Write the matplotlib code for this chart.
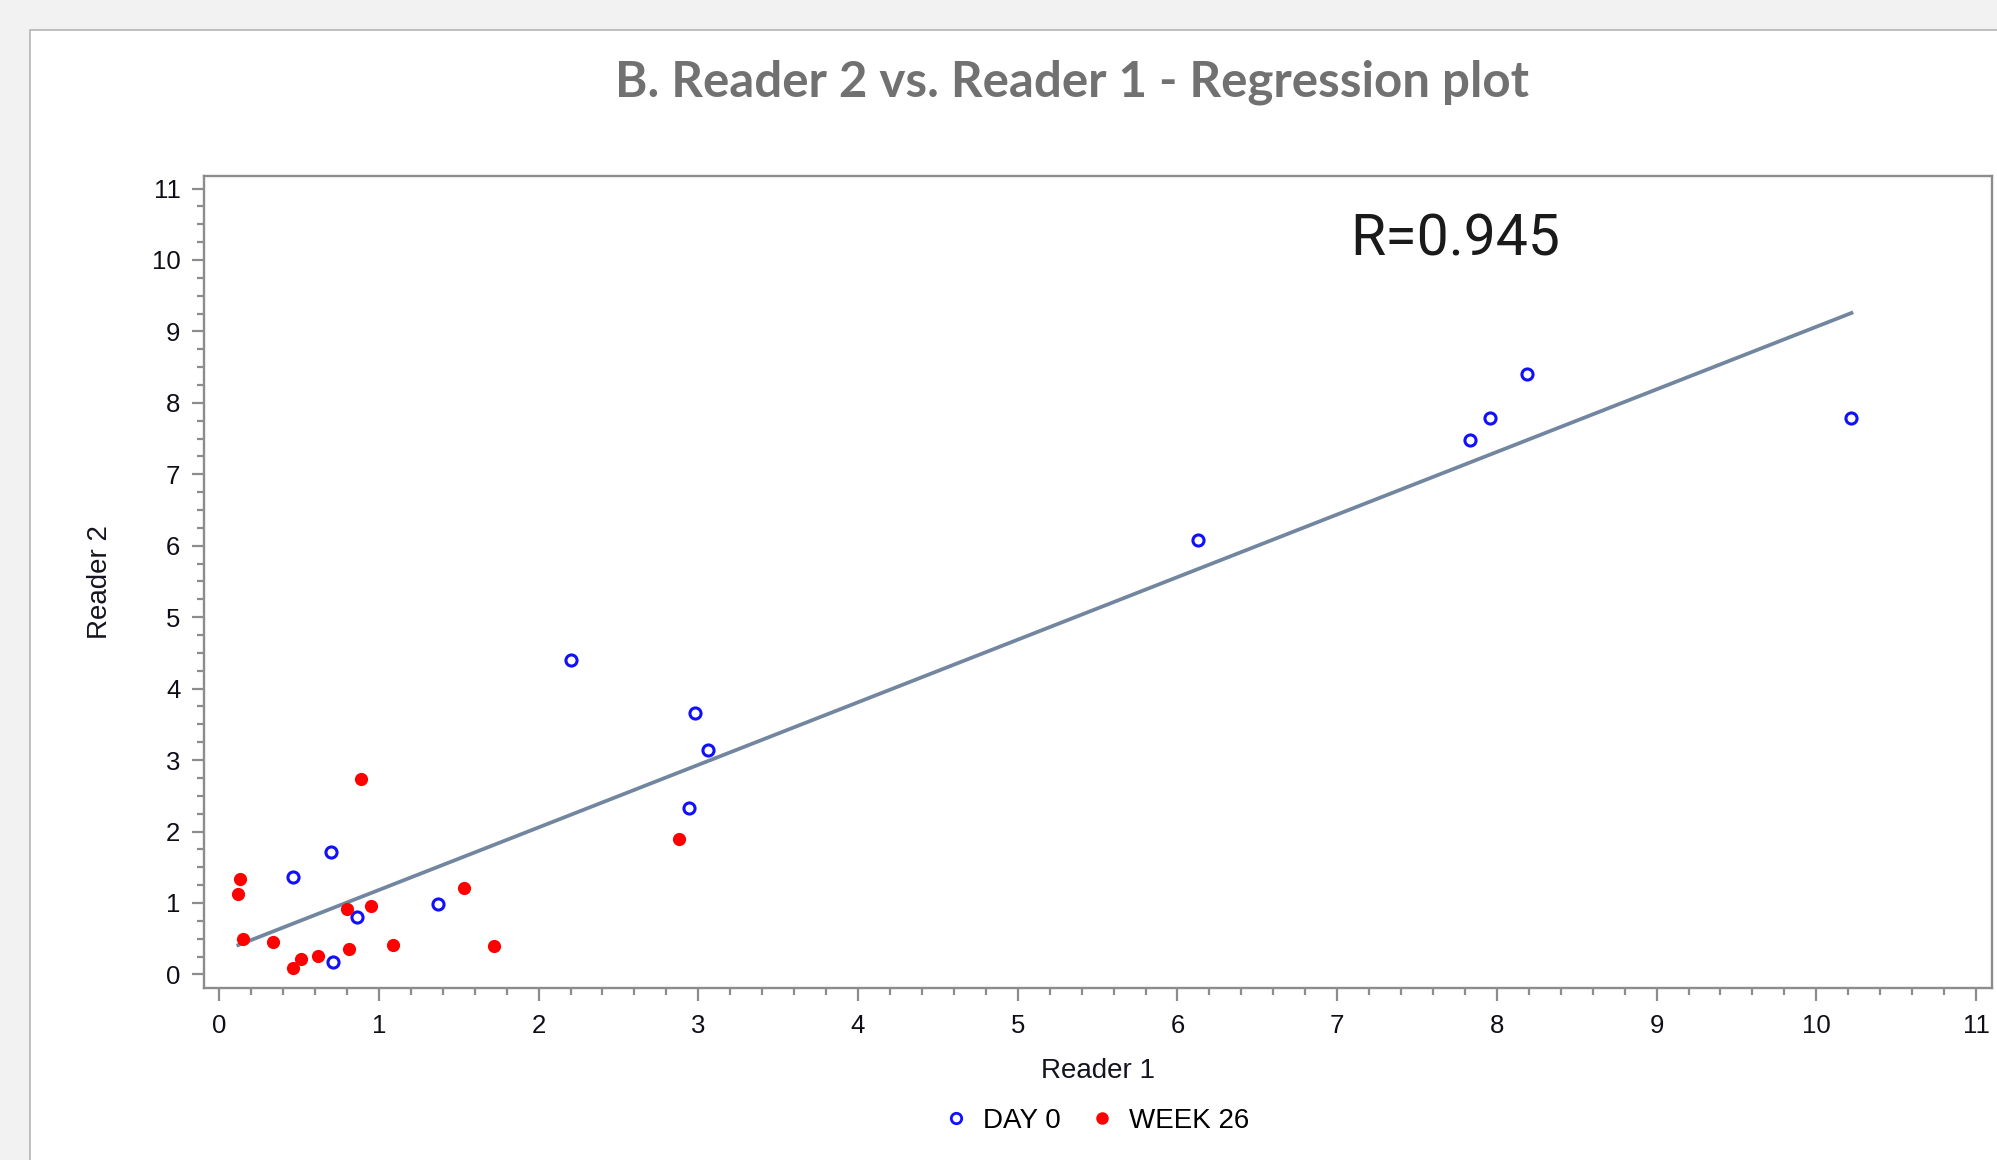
import numpy as np
import matplotlib
matplotlib.use("Agg")
import matplotlib.pyplot as plt
from matplotlib.patches import Rectangle
from matplotlib.ticker import MultipleLocator
from matplotlib.lines import Line2D

# Reader 1 / Reader 2 readings
day0_r1 = [0.46, 0.70, 0.71, 0.86, 1.37, 2.20, 2.94, 2.98, 3.06, 6.13, 7.83, 7.96, 8.19, 10.22]
day0_r2 = [1.36, 1.71, 0.17, 0.81, 0.98, 4.40, 2.33, 3.66, 3.14, 6.08, 7.48, 7.79, 8.40, 7.79]

week26_r1 = [0.12, 0.13, 0.15, 0.34, 0.46, 0.51, 0.62, 0.80, 0.81, 0.89, 0.95, 1.09, 1.53, 1.72, 2.88]
week26_r2 = [1.12, 1.33, 0.50, 0.46, 0.09, 0.22, 0.26, 0.92, 0.36, 2.74, 0.96, 0.41, 1.21, 0.40, 1.89]

x_ticks = list(range(0, 12))
y_ticks = list(range(0, 12))
r_text = "R=0.945"

W, H = 1997, 1160
fig = plt.figure(figsize=(W / 100, H / 100), dpi=100)
fig.patch.set_facecolor("#f2f2f2")

# white panel with thin grey border (left and top visible)
panel = Rectangle((30 / W, -0.02), 1.2, 1 - 30 / H + 0.02, transform=fig.transFigure,
                  facecolor="white", edgecolor="#b4b4b4", linewidth=1.2, zorder=-10)
fig.patches.append(panel)

fig.text(1072 / W, 1 - 82 / H, "B. Reader 2 vs. Reader 1 - Regression plot",
         ha="center", va="center", fontsize=35.5, fontweight="bold",
         color="#717171", family="Lato")

ax = fig.add_axes([204 / W, 1 - 988 / H, (1992 - 204) / W, (988 - 176) / H])
ax.set_zorder(5)
ax.set_xlim(-0.095, 11.10)
ax.set_ylim(-0.19, 11.175)

# regression line over all points
all_x = np.array(day0_r1 + week26_r1)
all_y = np.array(day0_r2 + week26_r2)
slope, intercept = np.polyfit(all_x, all_y, 1)
xs = np.array([all_x.min(), all_x.max()])
ax.plot(xs, slope * xs + intercept, color="#7286a0", linewidth=2.7, zorder=2)

ax.plot(day0_r1, day0_r2, linestyle="none", marker="o", markersize=8,
        markerfacecolor="none", markeredgecolor="#1010ff", markeredgewidth=2.2, zorder=3)
ax.plot(week26_r1, week26_r2, linestyle="none", marker="o", markersize=9.5,
        markerfacecolor="#ff0000", markeredgecolor="#ff0000", markeredgewidth=0, zorder=3)

ax.set_xticks(x_ticks)
ax.set_yticks(y_ticks)
ax.xaxis.set_minor_locator(MultipleLocator(0.2))
ax.yaxis.set_minor_locator(MultipleLocator(0.25))
ax.tick_params(which="major", length=9, width=1.6, color="#8c8c8c",
               labelsize=18.5, labelcolor="#0e0e18", pad=8)
ax.tick_params(axis="x", which="major", pad=10)
ax.tick_params(which="minor", length=5, width=1.6, color="#8c8c8c")
for lab in ax.get_xticklabels() + ax.get_yticklabels():
    lab.set_family("Liberation Sans")

for sp in ax.spines.values():
    sp.set_color("#8c8c8c")
    sp.set_linewidth(1.7)

ax.set_xlabel("Reader 1", fontsize=20, family="Liberation Sans", color="#141420", labelpad=14)
ax.set_ylabel("Reader 2", fontsize=20, family="Liberation Sans", color="#141420", labelpad=28)

ax.text(1455 / W, 1 - 240 / H, r_text, transform=fig.transFigure, ha="center", va="center",
        fontsize=41, family="Roboto", color="#1a1a1a")

handles = [
    Line2D([], [], linestyle="none", marker="o", markersize=7.5, markerfacecolor="none",
           markeredgecolor="#1010ff", markeredgewidth=2.0),
    Line2D([], [], linestyle="none", marker="o", markersize=9, markerfacecolor="#ff0000",
           markeredgewidth=0),
]
fig.legend(handles, ["DAY 0", "WEEK 26"], loc="center", bbox_to_anchor=(1097 / W, 1 - 1121 / H),
           ncol=2, frameon=False, prop={"family": "Liberation Sans", "size": 20},
           handlelength=0.8, handletextpad=0.55, columnspacing=1.1)

fig.savefig("out.png", dpi=100, facecolor=fig.get_facecolor())
